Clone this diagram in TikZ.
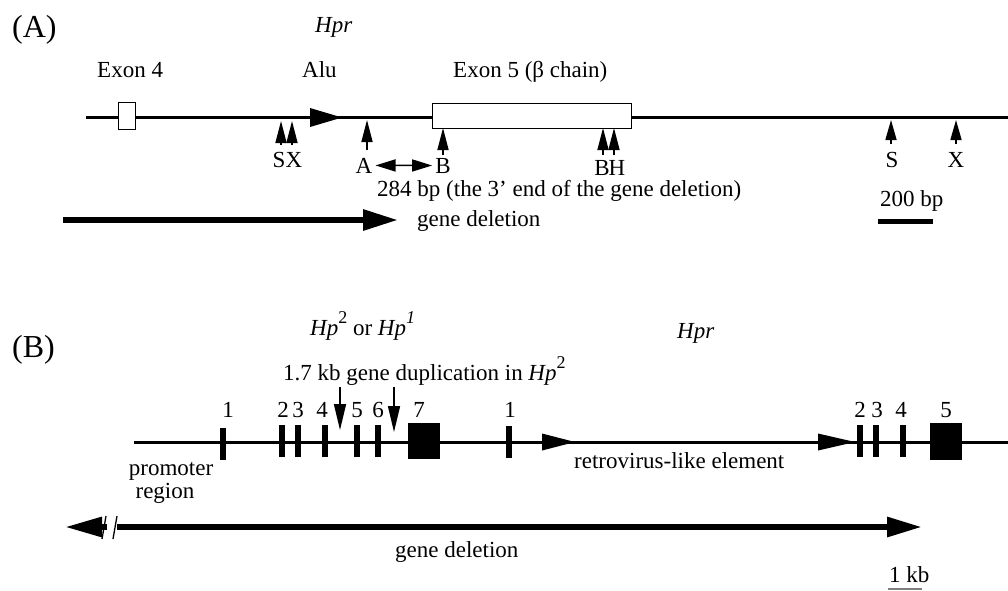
\documentclass[tikz,border=0pt]{standalone}
\usepackage{fontspec}
\setmainfont{Liberation Serif}
\usetikzlibrary{arrows.meta}
\newcommand{\supnum}[1]{\raisebox{0.5em}{\fontsize{18}{18}\selectfont #1}}
\begin{document}
\begin{tikzpicture}[x=1pt,y=-1pt,
  lbl/.style={font=\fontsize{23}{23}\selectfont, inner sep=0pt, anchor=base west},
  clbl/.style={font=\fontsize{23}{23}\selectfont, inner sep=0pt, anchor=base},
  panel/.style={font=\fontsize{32}{32}\selectfont, inner sep=0pt, anchor=base west},
  dna/.style={line width=3pt},
  openexon/.style={draw, fill=white, line width=1.6pt, inner sep=0pt, rectangle},
  exonbar/.style={fill=black, inner sep=0pt, minimum width=6pt, minimum height=32pt},
  exonbox/.style={fill=black, inner sep=0pt, minimum width=32pt, minimum height=36pt},
  site/.style={line width=1.6pt, -{Triangle[length=22pt,width=11pt]}},
  sitesm/.style={line width=1.6pt, -{Triangle[length=20pt,width=11pt]}},
  dup/.style={line width=1.6pt, -{Triangle[length=26pt,width=12pt]}},
  dbl/.style={line width=1.5pt, {Triangle[length=20pt,width=12pt]}-{Triangle[length=20pt,width=12pt]}},
  gdel/.style={line width=6pt, -{Triangle[length=35pt,width=20pt]}},
  scalebar/.style={line width=5pt},
]
\useasboundingbox (0,0) rectangle (1008,590);

% ================= Panel A =================
\node[panel] (pA) at (12,37) {(A)};
\node[lbl] (hprA) at (315,32) {\textit{Hpr}};
\node[lbl] (ex4lab) at (97,77) {Exon 4};
\node[lbl] (alulab) at (302,77) {Alu};
\node[lbl] (ex5lab) at (453,77) {Exon 5 (β chain)};

\coordinate (lineAs) at (86,117);
\coordinate (lineAe) at (1008,117);
\draw[dna] (lineAs) -- (lineAe);
\node[openexon, minimum width=17pt, minimum height=27pt] (ex4) at (127,116) {};
\node[openexon, minimum width=199pt, minimum height=25pt] (ex5) at (532,116) {};
\fill (310,108) -- (342,117.5) -- (310,127) -- cycle;

% restriction sites
\coordinate (tS1) at (281,121);  \coordinate (bS1) at (281,145);
\coordinate (tX1) at (292,121);  \coordinate (bX1) at (292,145);
\coordinate (tA) at (367,120);   \coordinate (bA) at (367,150);
\coordinate (tB1) at (443,128);  \coordinate (bB1) at (443,155);
\coordinate (tB2) at (603,128);  \coordinate (bB2) at (603,155);
\coordinate (tH) at (614,128);   \coordinate (bH) at (614,155);
\coordinate (tS2) at (891,120);  \coordinate (bS2) at (891,144);
\coordinate (tX2) at (956,120);  \coordinate (bX2) at (956,144);
\draw[site] (bS1) -- (tS1);
\draw[site] (bX1) -- (tX1);
\draw[site] (bA) -- (tA);
\draw[site] (bB1) -- (tB1);
\draw[site] (bB2) -- (tB2);
\draw[site] (bH) -- (tH);
\draw[sitesm] (bS2) -- (tS2);
\draw[sitesm] (bX2) -- (tX2);

\node[clbl] (labS1) at (279,167) {S};
\node[clbl] (labX1) at (294,167) {X};
\node[clbl] (labA) at (364,173) {A};
\node[clbl] (labB1) at (443,173) {B};
\node[clbl] (labB2) at (602,175) {B};
\node[clbl] (labH) at (617,175) {H};
\node[clbl] (labS2) at (892,167) {S};
\node[clbl] (labX2) at (956,167) {X};
\draw[dbl, shorten <=3pt, shorten >=3pt] (labA.east) -- (labB1.west);

\node[lbl] (bp284) at (377,196) {284 bp (the 3' end of the gene deletion)};
\node[lbl] (bp200) at (880,206) {200 bp};
\coordinate (sbAs) at (878,221); \coordinate (sbAe) at (933,221);
\draw[scalebar] (sbAs) -- (sbAe);

\coordinate (gdAs) at (63,220); \coordinate (gdAe) at (398,220);
\draw[gdel] (gdAs) -- (gdAe);
\node[lbl] (gdAlab) at (417,226) {gene deletion};

% ================= Panel B =================
\node[panel] (pB) at (12,357) {(B)};
\node[lbl] (hpB) at (310,335) {\textit{Hp}\supnum{2} or \textit{Hp}\supnum{\textit{1}}};
\node[lbl] (hprB) at (677,338) {\textit{Hpr}};
\node[lbl] (duplab) at (283,380) {1.7 kb gene duplication in \textit{Hp}\supnum{2}};

\coordinate (lineBs) at (134,442);
\coordinate (lineBe) at (1008,442);
\draw[dna] (lineBs) -- (lineBe);

\node[exonbar] (e1) at (223,443.5) {};
\node[exonbar] (e2) at (282,441) {};
\node[exonbar] (e3) at (298,441) {};
\node[exonbar] (e4) at (324.5,441) {};
\node[exonbar] (e5) at (356.5,441) {};
\node[exonbar] (e6) at (378,441) {};
\node[exonbox] (e7) at (424,441) {};
\node[exonbar] (r1) at (509,442) {};
\node[exonbar] (r2) at (860,441) {};
\node[exonbar] (r3) at (876,441) {};
\node[exonbar] (r4) at (903,441) {};
\node[exonbox, minimum height=37pt] (r5) at (946,441.5) {};

\node[clbl] (l1) at (228,417) {1};
\node[clbl] (l2) at (283,417) {2};
\node[clbl] (l3) at (298,417) {3};
\node[clbl] (l4) at (322,417) {4};
\node[clbl] (l5) at (357,417) {5};
\node[clbl] (l6) at (378,417) {6};
\node[clbl] (l7) at (419,417) {7};
\node[clbl] (m1) at (510,417) {1};
\node[clbl] (m2) at (860,417) {2};
\node[clbl] (m3) at (877,417) {3};
\node[clbl] (m4) at (901,417) {4};
\node[clbl] (m5) at (946,417) {5};

% LTR arrows
\fill (542,433.5) -- (575,442) -- (542,450.5) -- cycle;
\fill (818,433.5) -- (855,442) -- (818,450.5) -- cycle;

% duplication arrows
\coordinate (d1s) at (340,387); \coordinate (d1e) at (340,430);
\coordinate (d2s) at (394,387); \coordinate (d2e) at (394,432);
\draw[dup] (d1s) -- (d1e);
\draw[dup] (d2s) -- (d2e);

\node[clbl] (prom1) at (171,475) {promoter};
\node[clbl] (prom2) at (165,498) {region};
\node[lbl] (retro) at (574,468) {retrovirus-like element};

% gene deletion B
\coordinate (gdBl) at (65,527); \coordinate (gdBlb) at (107,527);
\coordinate (gdBrs) at (117,527); \coordinate (gdBr) at (922,527);
\draw[line width=6pt, -{Triangle[length=37pt,width=19pt]}] (gdBlb) -- (gdBl);
\draw[line width=6pt, -{Triangle[length=35pt,width=19pt]}] (gdBrs) -- (gdBr);
\draw[line width=1.3pt] (102,539) -- (106,516);
\draw[line width=1.3pt] (113,539) -- (117,516);
\node[lbl] (gdBlab) at (395,557) {gene deletion};

\node[lbl] (kb1) at (889,582) {1 kb};
\coordinate (sbBs) at (888,589); \coordinate (sbBe) at (922,589);
\draw[line width=1.5pt, gray] (sbBs) -- (sbBe);
\end{tikzpicture}
\end{document}
